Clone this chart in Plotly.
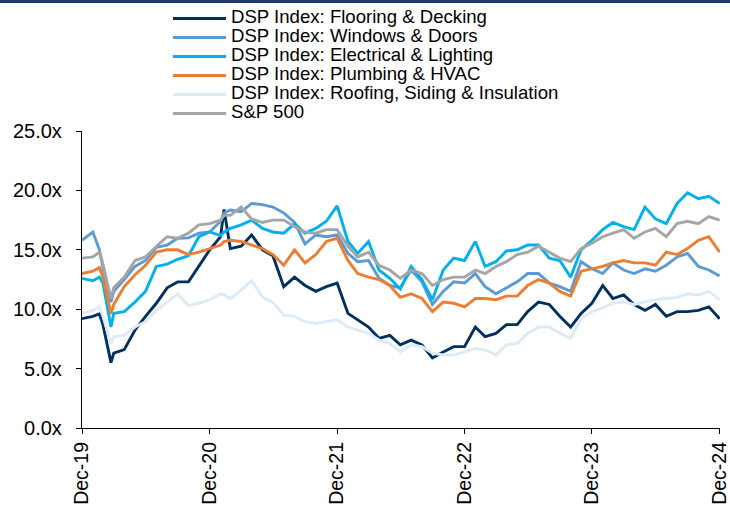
import plotly.graph_objects as go

# Observation dates (month-ends, plus a few intra-month turning points)
dates = [
    "2019-12-31", "2020-01-31", "2020-02-19", "2020-02-29", "2020-03-23", "2020-03-31",
    "2020-04-30", "2020-05-31", "2020-06-30", "2020-07-31", "2020-08-31", "2020-09-30",
    "2020-10-31", "2020-11-30", "2020-12-31", "2021-01-31", "2021-02-10", "2021-02-28",
    "2021-03-31", "2021-04-30", "2021-05-31", "2021-06-30", "2021-07-31", "2021-08-31",
    "2021-09-30", "2021-10-31", "2021-11-30", "2021-12-31", "2022-01-31", "2022-02-28",
    "2022-03-31", "2022-04-30", "2022-05-31", "2022-06-30", "2022-07-31", "2022-08-31",
    "2022-09-30", "2022-10-31", "2022-11-30", "2022-12-31", "2023-01-31", "2023-02-28",
    "2023-03-31", "2023-04-30", "2023-05-31", "2023-06-30", "2023-07-31", "2023-08-31",
    "2023-09-30", "2023-10-31", "2023-11-30", "2023-12-31", "2024-01-31", "2024-02-29",
    "2024-03-31", "2024-04-30", "2024-05-31", "2024-06-30", "2024-07-31", "2024-08-31",
    "2024-09-30", "2024-10-31", "2024-11-30", "2024-12-31",
]

flooring_decking = [
    9.2, 9.4, 9.6, 8.7, 5.5, 6.3, 6.6, 8.25, 9.4, 10.5, 11.8, 12.3,
    12.3, 13.6, 15.0, 16.1, 18.4, 15.1, 15.3, 16.25, 15.0, 14.5, 11.9, 12.7,
    12.0, 11.5, 11.9, 12.2, 9.65, 9.1, 8.5, 7.55, 7.8, 7.0, 7.4, 7.0,
    5.9, 6.4, 6.85, 6.85, 8.5, 7.7, 7.97, 8.7, 8.7, 9.8, 10.6, 10.4,
    9.4, 8.5, 9.65, 10.5, 12.0, 10.9, 11.2, 10.4, 9.9, 10.4, 9.4, 9.8,
    9.8, 9.9, 10.2, 9.2,
]
windows_doors = [
    15.8, 16.5, 15.0, 13.5, 10.6, 11.5, 12.5, 13.6, 14.1, 15.2, 15.4, 15.97,
    16.0, 16.4, 16.5, 17.4, 18.1, 18.35, 18.2, 18.9, 18.8, 18.6, 18.1, 17.3,
    15.5, 16.25, 16.1, 16.25, 14.7, 14.0, 14.1, 12.6, 12.0, 11.8, 13.3, 12.3,
    10.4, 11.5, 12.3, 12.2, 13.0, 11.9, 11.3, 11.8, 12.3, 13.0, 13.0, 12.2,
    11.9, 11.5, 14.0, 13.4, 13.0, 13.9, 13.3, 13.0, 13.4, 13.2, 13.7, 14.4,
    14.7, 13.6, 13.3, 12.8,
]
electrical_lighting = [
    12.6, 12.4, 12.7, 12.2, 8.5, 9.65, 9.8, 10.6, 11.5, 13.6, 13.8, 14.2,
    14.5, 16.1, 16.5, 16.2, 16.5, 16.8, 17.1, 17.5, 16.8, 16.5, 16.4, 17.2,
    16.4, 16.8, 17.4, 18.7, 15.7, 14.7, 15.7, 13.3, 12.6, 11.7, 13.6, 12.5,
    10.8, 13.3, 14.3, 14.1, 15.7, 13.6, 14.0, 14.9, 15.0, 15.4, 15.4, 14.3,
    14.1, 12.7, 15.0, 15.8, 16.7, 17.3, 16.95, 16.7, 18.6, 17.6, 17.2, 18.9,
    19.8, 19.3, 19.5, 18.9,
]
plumbing_hvac = [
    13.0, 13.2, 13.5, 12.7, 9.6, 10.4, 11.9, 12.9, 13.7, 14.8, 15.0, 15.0,
    14.6, 14.8, 15.1, 15.4, 15.7, 15.8, 15.7, 15.4, 15.1, 14.6, 13.7, 15.0,
    13.9, 14.6, 15.7, 15.97, 14.1, 13.0, 12.7, 12.5, 12.0, 11.0, 11.3, 10.9,
    9.8, 10.6, 10.5, 10.2, 10.9, 10.9, 10.8, 11.1, 11.1, 12.0, 12.5, 12.2,
    11.5, 11.1, 13.2, 13.4, 13.6, 13.9, 14.1, 13.9, 13.9, 13.7, 14.8, 14.6,
    15.1, 15.8, 16.1, 14.8,
]
roofing_siding_insulation = [
    9.65, 9.9, 10.2, 9.4, 7.1, 7.7, 7.8, 8.5, 8.95, 9.9, 10.6, 11.3,
    10.3, 10.5, 10.8, 11.3, 11.2, 10.9, 11.6, 12.4, 11.0, 10.6, 9.5, 9.4,
    8.95, 8.8, 8.95, 9.1, 8.5, 8.25, 7.97, 7.4, 7.13, 6.4, 7.0, 6.85,
    6.3, 6.15, 6.15, 6.4, 6.7, 6.57, 6.15, 7.0, 7.13, 7.97, 8.5, 8.5,
    7.97, 7.55, 9.2, 9.8, 10.1, 10.5, 10.6, 10.4, 10.6, 10.8, 10.9, 11.0,
    11.3, 11.2, 11.5, 10.8,
]
sp500 = [
    14.3, 14.4, 14.8, 13.8, 10.9, 11.8, 12.7, 14.1, 14.4, 15.3, 16.1, 15.97,
    16.4, 17.1, 17.2, 17.5, 17.9, 17.9, 18.6, 17.6, 17.3, 17.5, 17.5, 16.95,
    16.5, 16.4, 16.7, 16.7, 15.3, 14.4, 14.8, 13.7, 13.3, 12.6, 13.3, 13.0,
    12.0, 12.5, 12.7, 12.7, 13.3, 13.0, 13.6, 14.0, 14.6, 14.8, 15.3, 14.8,
    14.3, 14.0, 15.1, 15.55, 16.1, 16.4, 16.7, 15.97, 16.5, 16.8, 16.1, 17.2,
    17.4, 17.2, 17.8, 17.5,
]

series = [
    ("DSP Index: Flooring & Decking", flooring_decking, "#00305F"),
    ("DSP Index: Windows & Doors", windows_doors, "#5B9BD5"),
    ("DSP Index: Electrical & Lighting", electrical_lighting, "#00B0F0"),
    ("DSP Index: Plumbing & HVAC", plumbing_hvac, "#ED7D31"),
    ("DSP Index: Roofing, Siding & Insulation", roofing_siding_insulation, "#DDEBF7"),
    ("S&P 500", sp500, "#A5A5A5"),
]

x_ticks = ["2019-12-31", "2020-12-31", "2021-12-31", "2022-12-31", "2023-12-31", "2024-12-31"]
x_tick_labels = ["Dec-19", "Dec-20", "Dec-21", "Dec-22", "Dec-23", "Dec-24"]

FONT = "Liberation Sans, Arial, sans-serif"

fig = go.Figure()
for name, values, color in series:
    fig.add_trace(go.Scatter(
        x=dates, y=values, mode="lines",
        name='<span style="font-size:18.6px">' + name + "</span>",
        line=dict(color=color, width=2.9),
    ))

W, H = 730, 509
L, R, T, B = 82, 10, 131, 81
plot_w = W - L - R
plot_h = H - T - B

fig.update_layout(
    width=W, height=H,
    margin=dict(l=L, r=R, t=T, b=B, autoexpand=False),
    paper_bgcolor="white", plot_bgcolor="white",
    font=dict(family=FONT, color="black"),
    showlegend=True,
    legend=dict(
        xref="container", yref="container",
        x=168 / W, xanchor="left",
        y=1 - 4 / H, yanchor="top",
        font=dict(size=12, family=FONT, color="black"),
        itemwidth=53, bgcolor="rgba(0,0,0,0)", borderwidth=0,
        tracegroupgap=0,
    ),
    xaxis=dict(
        type="date",
        range=["2019-12-31", "2025-01-01"],
        tickmode="array", tickvals=x_ticks, ticktext=x_tick_labels,
        tickangle=-90, tickfont=dict(size=19.5, family=FONT),
        ticks="outside", ticklen=5, tickwidth=1.3, tickcolor="black",
        showline=True, linecolor="black", linewidth=1.3,
        showgrid=False, zeroline=False, automargin=False,
    ),
    yaxis=dict(
        range=[0, 25], tick0=0, dtick=5,
        tickformat=".1f", ticksuffix="x",
        tickfont=dict(size=20, family=FONT),
        ticks="outside", ticklen=5, tickwidth=1.3, tickcolor="black",
        ticklabelstandoff=10,
        showline=True, linecolor="black", linewidth=1.3,
        showgrid=False, zeroline=False, automargin=False,
    ),
    shapes=[dict(
        type="rect", xref="paper", yref="paper",
        x0=-L / plot_w, x1=(W - L) / plot_w,
        y0=1 + (T - 3) / plot_h, y1=1 + T / plot_h,
        fillcolor="#1F3864", line=dict(width=0), layer="above",
    )],
)

fig.write_html("out.html")
